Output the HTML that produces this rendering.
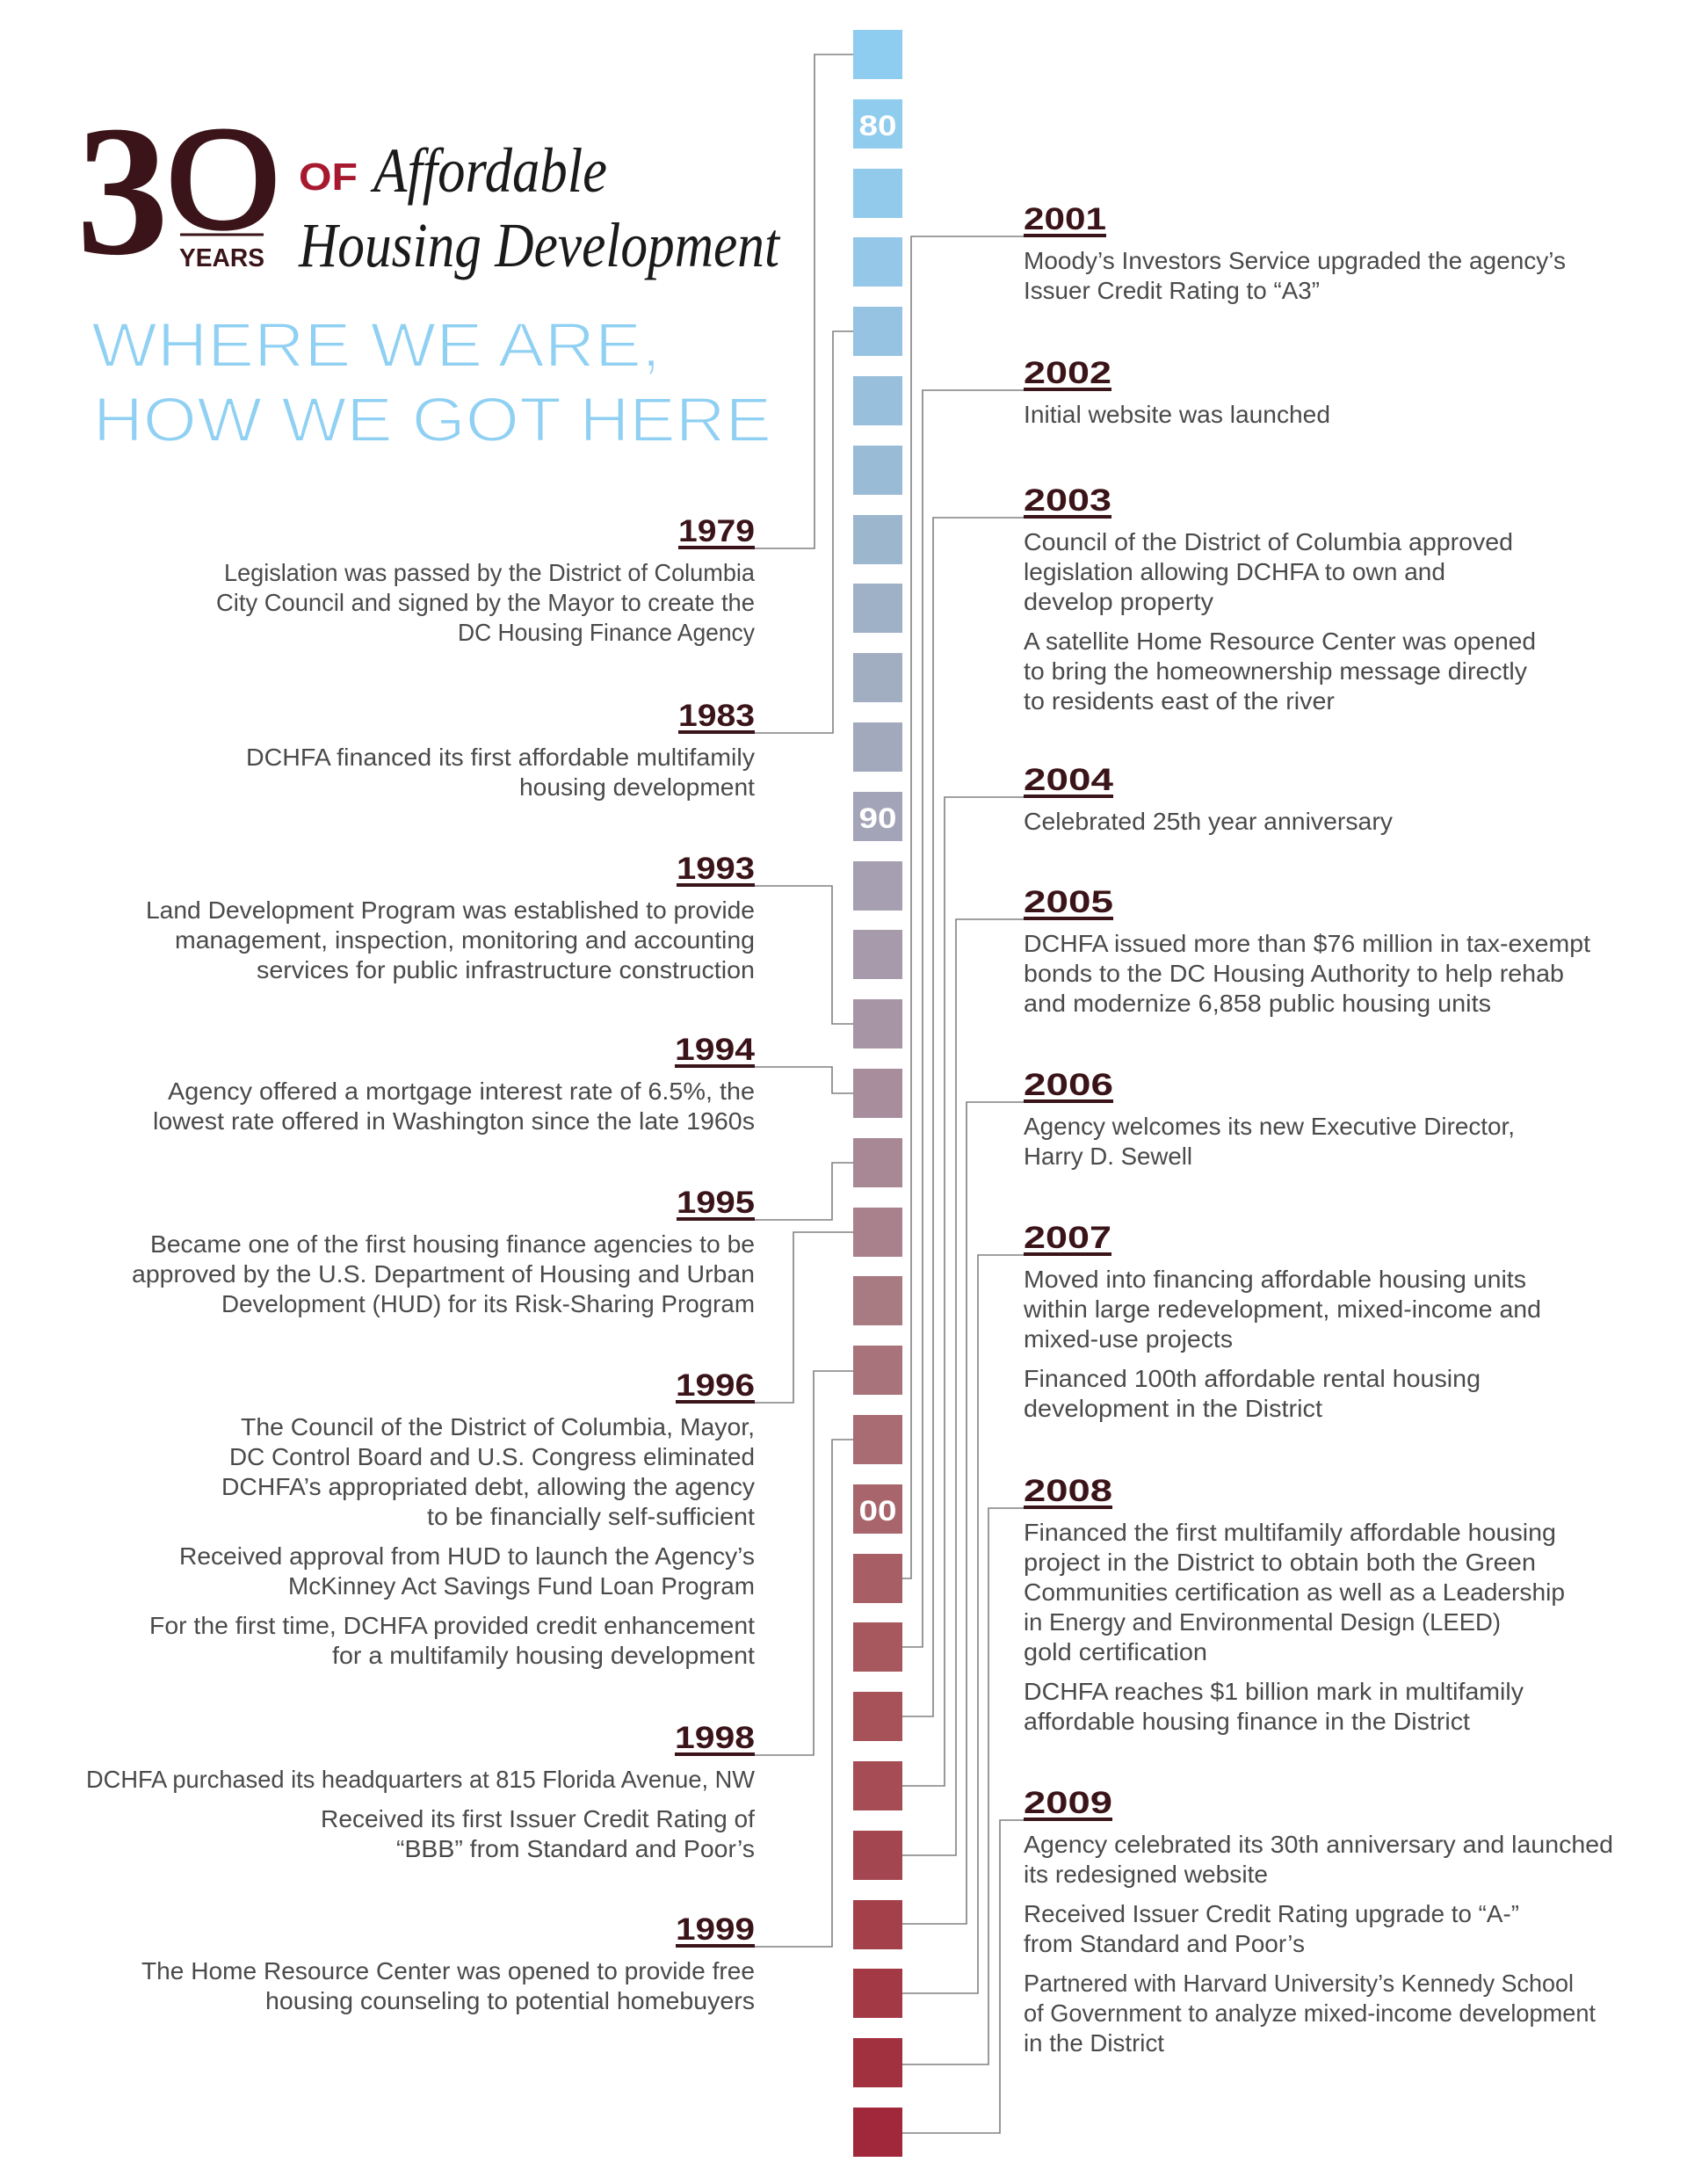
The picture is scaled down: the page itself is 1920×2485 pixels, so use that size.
<!DOCTYPE html>
<html>
<head>
<meta charset="utf-8">
<style>
html,body{margin:0;padding:0;background:#fff;}
svg{display:block;}
.b{font-family:"Liberation Sans",sans-serif;font-size:28px;fill:#4a4a4a;}
.h{font-family:"Liberation Sans",sans-serif;font-size:35px;font-weight:bold;fill:#3a1418;}
.l{text-anchor:end;}
.c{fill:none;stroke:#808080;stroke-width:1.6;}
.u{fill:#3a1418;}
.sq{font-family:"Liberation Sans",sans-serif;font-size:32px;font-weight:bold;fill:#fff;text-anchor:middle;}
.thin{stroke:#fff;stroke-width:2;paint-order:normal;}
</style>
</head>
<body>
<svg width="1920" height="2485" viewBox="0 0 1920 2485" xmlns="http://www.w3.org/2000/svg">
<rect x="0" y="0" width="1920" height="2485" fill="#fff"/>

<!-- Title -->
<text x="87" y="288" font-family="'Liberation Serif',serif" font-weight="bold" font-size="212" fill="#3a1418" textLength="105" lengthAdjust="spacingAndGlyphs">3</text>
<text x="185" y="261" font-family="'Liberation Sans',sans-serif" font-size="164" fill="#3a1418" textLength="138" lengthAdjust="spacingAndGlyphs">0</text>
<rect x="205" y="265.5" width="95" height="3" fill="#3a1418"/>
<text x="204" y="303" font-family="'Liberation Sans',sans-serif" font-weight="bold" font-size="29" fill="#3a1418" textLength="97" lengthAdjust="spacingAndGlyphs">YEARS</text>
<text x="340" y="216" font-family="'Liberation Sans',sans-serif" font-weight="bold" font-size="44" fill="#a6192e" textLength="67" lengthAdjust="spacingAndGlyphs">OF</text>
<text x="425" y="218" font-family="'Liberation Serif',serif" font-style="italic" font-size="72" fill="#1a1a1a" textLength="266" lengthAdjust="spacingAndGlyphs">Affordable</text>
<text x="340" y="303" font-family="'Liberation Serif',serif" font-style="italic" font-size="72" fill="#1a1a1a" textLength="547" lengthAdjust="spacingAndGlyphs">Housing Development</text>
<text class="thin" x="104" y="417" font-family="'Liberation Sans',sans-serif" font-size="71" fill="#8fd0f3" textLength="648" lengthAdjust="spacingAndGlyphs">WHERE WE ARE,</text>
<text class="thin" x="106" y="502" font-family="'Liberation Sans',sans-serif" font-size="71" fill="#8fd0f3" textLength="772" lengthAdjust="spacingAndGlyphs">HOW WE GOT HERE</text>

<!-- Squares -->
<g>
<rect x="971" y="34" width="56" height="56" fill="#8fcdf0"/>
<rect x="971" y="113" width="56" height="56" fill="#90ccee"/>
<rect x="971" y="192" width="56" height="56" fill="#92caec"/>
<rect x="971" y="270" width="56" height="56" fill="#94c7e8"/>
<rect x="971" y="349" width="56" height="56" fill="#96c3e2"/>
<rect x="971" y="428" width="56" height="56" fill="#98bfdc"/>
<rect x="971" y="507" width="56" height="56" fill="#9abbd5"/>
<rect x="971" y="586" width="56" height="56" fill="#9cb6ce"/>
<rect x="971" y="664" width="56" height="56" fill="#9fb1c7"/>
<rect x="971" y="743" width="56" height="56" fill="#a1adc1"/>
<rect x="971" y="822" width="56" height="56" fill="#a2a9bc"/>
<rect x="971" y="901" width="56" height="56" fill="#a3a4b7"/>
<rect x="971" y="980" width="56" height="56" fill="#a59fb1"/>
<rect x="971" y="1058" width="56" height="56" fill="#a69aab"/>
<rect x="971" y="1137" width="56" height="56" fill="#a794a4"/>
<rect x="971" y="1216" width="56" height="56" fill="#a88e9c"/>
<rect x="971" y="1295" width="56" height="56" fill="#a88895"/>
<rect x="971" y="1374" width="56" height="56" fill="#a8818c"/>
<rect x="971" y="1452" width="56" height="56" fill="#a87a82"/>
<rect x="971" y="1531" width="56" height="56" fill="#a8737a"/>
<rect x="971" y="1610" width="56" height="56" fill="#a86c72"/>
<rect x="971" y="1689" width="56" height="56" fill="#a8656b"/>
<rect x="971" y="1768" width="56" height="56" fill="#a75e64"/>
<rect x="971" y="1846" width="56" height="56" fill="#a7585e"/>
<rect x="971" y="1925" width="56" height="56" fill="#a65258"/>
<rect x="971" y="2004" width="56" height="56" fill="#a54c54"/>
<rect x="971" y="2083" width="56" height="56" fill="#a4464f"/>
<rect x="971" y="2162" width="56" height="56" fill="#a3404a"/>
<rect x="971" y="2240" width="56" height="56" fill="#a33945"/>
<rect x="971" y="2319" width="56" height="56" fill="#a2313f"/>
<rect x="971" y="2398" width="56" height="56" fill="#a1283a"/>
</g>
<text class="sq" x="999" y="154" textLength="43" lengthAdjust="spacingAndGlyphs">80</text>
<text class="sq" x="999" y="942" textLength="43" lengthAdjust="spacingAndGlyphs">90</text>
<text class="sq" x="999" y="1730" textLength="43" lengthAdjust="spacingAndGlyphs">00</text>

<!-- Connectors left -->
<polyline class="c" points="859,624 927,624 927,62 971,62"/>
<polyline class="c" points="859,834 948,834 948,377 971,377"/>
<polyline class="c" points="859,1008 947,1008 947,1165 971,1165"/>
<polyline class="c" points="859,1214 947,1214 947,1244 971,1244"/>
<polyline class="c" points="859,1388 947,1388 947,1323 971,1323"/>
<polyline class="c" points="859,1596 903,1596 903,1402 971,1402"/>
<polyline class="c" points="859,1997 926,1997 926,1560 971,1560"/>
<polyline class="c" points="859,2215 947,2215 947,1638 971,1638"/>
<!-- Connectors right -->
<polyline class="c" points="1027,1796 1037,1796 1037,269 1165,269"/>
<polyline class="c" points="1027,1874 1050,1874 1050,444 1165,444"/>
<polyline class="c" points="1027,1953 1062,1953 1062,589 1165,589"/>
<polyline class="c" points="1027,2032 1075,2032 1075,907 1165,907"/>
<polyline class="c" points="1027,2111 1088,2111 1088,1046 1165,1046"/>
<polyline class="c" points="1027,2189 1100,2189 1100,1254 1165,1254"/>
<polyline class="c" points="1027,2268 1113,2268 1113,1428 1165,1428"/>
<polyline class="c" points="1027,2349 1125,2349 1125,1716 1165,1716"/>
<polyline class="c" points="1027,2427 1138,2427 1138,2071 1165,2071"/>

<!-- LEFT COLUMN -->
<text class="h l" x="859" y="616" textLength="87" lengthAdjust="spacingAndGlyphs">1979</text>
<rect class="u" x="772" y="621" width="87" height="4"/>
<text class="b l" x="859" y="661" textLength="604" lengthAdjust="spacingAndGlyphs">Legislation was passed by the District of Columbia</text>
<text class="b l" x="859" y="695" textLength="613" lengthAdjust="spacingAndGlyphs">City Council and signed by the Mayor to create the</text>
<text class="b l" x="859" y="729" textLength="338" lengthAdjust="spacingAndGlyphs">DC Housing Finance Agency</text>

<text class="h l" x="859" y="826" textLength="87" lengthAdjust="spacingAndGlyphs">1983</text>
<rect class="u" x="772" y="831" width="87" height="4"/>
<text class="b l" x="859" y="871" textLength="579" lengthAdjust="spacingAndGlyphs">DCHFA financed its first affordable multifamily</text>
<text class="b l" x="859" y="905" textLength="268" lengthAdjust="spacingAndGlyphs">housing development</text>

<text class="h l" x="859" y="1000" textLength="89" lengthAdjust="spacingAndGlyphs">1993</text>
<rect class="u" x="770" y="1005" width="89" height="4"/>
<text class="b l" x="859" y="1045" textLength="693" lengthAdjust="spacingAndGlyphs">Land Development Program was established to provide</text>
<text class="b l" x="859" y="1079" textLength="660" lengthAdjust="spacingAndGlyphs">management, inspection, monitoring and accounting</text>
<text class="b l" x="859" y="1113" textLength="567" lengthAdjust="spacingAndGlyphs">services for public infrastructure construction</text>

<text class="h l" x="859" y="1206" textLength="91" lengthAdjust="spacingAndGlyphs">1994</text>
<rect class="u" x="768" y="1211" width="91" height="4"/>
<text class="b l" x="859" y="1251" textLength="668" lengthAdjust="spacingAndGlyphs">Agency offered a mortgage interest rate of 6.5%, the</text>
<text class="b l" x="859" y="1285" textLength="685" lengthAdjust="spacingAndGlyphs">lowest rate offered in Washington since the late 1960s</text>

<text class="h l" x="859" y="1380" textLength="89" lengthAdjust="spacingAndGlyphs">1995</text>
<rect class="u" x="770" y="1385" width="89" height="4"/>
<text class="b l" x="859" y="1425" textLength="688" lengthAdjust="spacingAndGlyphs">Became one of the first housing finance agencies to be</text>
<text class="b l" x="859" y="1459" textLength="709" lengthAdjust="spacingAndGlyphs">approved by the U.S. Department of Housing and Urban</text>
<text class="b l" x="859" y="1493" textLength="607" lengthAdjust="spacingAndGlyphs">Development (HUD) for its Risk-Sharing Program</text>

<text class="h l" x="859" y="1588" textLength="90" lengthAdjust="spacingAndGlyphs">1996</text>
<rect class="u" x="769" y="1593" width="90" height="4"/>
<text class="b l" x="859" y="1633" textLength="585" lengthAdjust="spacingAndGlyphs">The Council of the District of Columbia, Mayor,</text>
<text class="b l" x="859" y="1667" textLength="598" lengthAdjust="spacingAndGlyphs">DC Control Board and U.S. Congress eliminated</text>
<text class="b l" x="859" y="1701" textLength="607" lengthAdjust="spacingAndGlyphs">DCHFA’s appropriated debt, allowing the agency</text>
<text class="b l" x="859" y="1735" textLength="373" lengthAdjust="spacingAndGlyphs">to be financially self-sufficient</text>
<text class="b l" x="859" y="1780" textLength="655" lengthAdjust="spacingAndGlyphs">Received approval from HUD to launch the Agency’s</text>
<text class="b l" x="859" y="1814" textLength="531" lengthAdjust="spacingAndGlyphs">McKinney Act Savings Fund Loan Program</text>
<text class="b l" x="859" y="1859" textLength="689" lengthAdjust="spacingAndGlyphs">For the first time, DCHFA provided credit enhancement</text>
<text class="b l" x="859" y="1893" textLength="481" lengthAdjust="spacingAndGlyphs">for a multifamily housing development</text>

<text class="h l" x="859" y="1989" textLength="91" lengthAdjust="spacingAndGlyphs">1998</text>
<rect class="u" x="768" y="1994" width="91" height="4"/>
<text class="b l" x="859" y="2034" textLength="761" lengthAdjust="spacingAndGlyphs">DCHFA purchased its headquarters at 815 Florida Avenue, NW</text>
<text class="b l" x="859" y="2079" textLength="494" lengthAdjust="spacingAndGlyphs">Received its first Issuer Credit Rating of</text>
<text class="b l" x="859" y="2113" textLength="408" lengthAdjust="spacingAndGlyphs">“BBB” from Standard and Poor’s</text>

<text class="h l" x="859" y="2207" textLength="90" lengthAdjust="spacingAndGlyphs">1999</text>
<rect class="u" x="769" y="2212" width="90" height="4"/>
<text class="b l" x="859" y="2252" textLength="698" lengthAdjust="spacingAndGlyphs">The Home Resource Center was opened to provide free</text>
<text class="b l" x="859" y="2286" textLength="557" lengthAdjust="spacingAndGlyphs">housing counseling to potential homebuyers</text>

<!-- RIGHT COLUMN -->
<text class="h" x="1165" y="261" textLength="94" lengthAdjust="spacingAndGlyphs">2001</text>
<rect class="u" x="1165" y="266" width="94" height="4"/>
<text class="b" x="1165" y="306" textLength="617" lengthAdjust="spacingAndGlyphs">Moody’s Investors Service upgraded the agency’s</text>
<text class="b" x="1165" y="340" textLength="337" lengthAdjust="spacingAndGlyphs">Issuer Credit Rating to “A3”</text>

<text class="h" x="1165" y="436" textLength="100" lengthAdjust="spacingAndGlyphs">2002</text>
<rect class="u" x="1165" y="441" width="100" height="4"/>
<text class="b" x="1165" y="481" textLength="349" lengthAdjust="spacingAndGlyphs">Initial website was launched</text>

<text class="h" x="1165" y="581" textLength="100" lengthAdjust="spacingAndGlyphs">2003</text>
<rect class="u" x="1165" y="586" width="100" height="4"/>
<text class="b" x="1165" y="626" textLength="557" lengthAdjust="spacingAndGlyphs">Council of the District of Columbia approved</text>
<text class="b" x="1165" y="660" textLength="480" lengthAdjust="spacingAndGlyphs">legislation allowing DCHFA to own and</text>
<text class="b" x="1165" y="694" textLength="216" lengthAdjust="spacingAndGlyphs">develop property</text>
<text class="b" x="1165" y="739" textLength="583" lengthAdjust="spacingAndGlyphs">A satellite Home Resource Center was opened</text>
<text class="b" x="1165" y="773" textLength="573" lengthAdjust="spacingAndGlyphs">to bring the homeownership message directly</text>
<text class="b" x="1165" y="807" textLength="354" lengthAdjust="spacingAndGlyphs">to residents east of the river</text>

<text class="h" x="1165" y="899" textLength="102" lengthAdjust="spacingAndGlyphs">2004</text>
<rect class="u" x="1165" y="904" width="102" height="4"/>
<text class="b" x="1165" y="944" textLength="420" lengthAdjust="spacingAndGlyphs">Celebrated 25th year anniversary</text>

<text class="h" x="1165" y="1038" textLength="102" lengthAdjust="spacingAndGlyphs">2005</text>
<rect class="u" x="1165" y="1043" width="102" height="4"/>
<text class="b" x="1165" y="1083" textLength="645" lengthAdjust="spacingAndGlyphs">DCHFA issued more than $76 million in tax-exempt</text>
<text class="b" x="1165" y="1117" textLength="615" lengthAdjust="spacingAndGlyphs">bonds to the DC Housing Authority to help rehab</text>
<text class="b" x="1165" y="1151" textLength="532" lengthAdjust="spacingAndGlyphs">and modernize 6,858 public housing units</text>

<text class="h" x="1165" y="1246" textLength="102" lengthAdjust="spacingAndGlyphs">2006</text>
<rect class="u" x="1165" y="1251" width="102" height="4"/>
<text class="b" x="1165" y="1291" textLength="559" lengthAdjust="spacingAndGlyphs">Agency welcomes its new Executive Director,</text>
<text class="b" x="1165" y="1325" textLength="192" lengthAdjust="spacingAndGlyphs">Harry D. Sewell</text>

<text class="h" x="1165" y="1420" textLength="100" lengthAdjust="spacingAndGlyphs">2007</text>
<rect class="u" x="1165" y="1425" width="100" height="4"/>
<text class="b" x="1165" y="1465" textLength="572" lengthAdjust="spacingAndGlyphs">Moved into financing affordable housing units</text>
<text class="b" x="1165" y="1499" textLength="589" lengthAdjust="spacingAndGlyphs">within large redevelopment, mixed-income and</text>
<text class="b" x="1165" y="1533" textLength="238" lengthAdjust="spacingAndGlyphs">mixed-use projects</text>
<text class="b" x="1165" y="1578" textLength="520" lengthAdjust="spacingAndGlyphs">Financed 100th affordable rental housing</text>
<text class="b" x="1165" y="1612" textLength="340" lengthAdjust="spacingAndGlyphs">development in the District</text>

<text class="h" x="1165" y="1708" textLength="101" lengthAdjust="spacingAndGlyphs">2008</text>
<rect class="u" x="1165" y="1713" width="101" height="4"/>
<text class="b" x="1165" y="1753" textLength="606" lengthAdjust="spacingAndGlyphs">Financed the first multifamily affordable housing</text>
<text class="b" x="1165" y="1787" textLength="583" lengthAdjust="spacingAndGlyphs">project in the District to obtain both the Green</text>
<text class="b" x="1165" y="1821" textLength="616" lengthAdjust="spacingAndGlyphs">Communities certification as well as a Leadership</text>
<text class="b" x="1165" y="1855" textLength="543" lengthAdjust="spacingAndGlyphs">in Energy and Environmental Design (LEED)</text>
<text class="b" x="1165" y="1889" textLength="209" lengthAdjust="spacingAndGlyphs">gold certification</text>
<text class="b" x="1165" y="1934" textLength="569" lengthAdjust="spacingAndGlyphs">DCHFA reaches $1 billion mark in multifamily</text>
<text class="b" x="1165" y="1968" textLength="508" lengthAdjust="spacingAndGlyphs">affordable housing finance in the District</text>

<text class="h" x="1165" y="2063" textLength="101" lengthAdjust="spacingAndGlyphs">2009</text>
<rect class="u" x="1165" y="2068" width="101" height="4"/>
<text class="b" x="1165" y="2108" textLength="671" lengthAdjust="spacingAndGlyphs">Agency celebrated its 30th anniversary and launched</text>
<text class="b" x="1165" y="2142" textLength="278" lengthAdjust="spacingAndGlyphs">its redesigned website</text>
<text class="b" x="1165" y="2187" textLength="564" lengthAdjust="spacingAndGlyphs">Received Issuer Credit Rating upgrade to “A-”</text>
<text class="b" x="1165" y="2221" textLength="320" lengthAdjust="spacingAndGlyphs">from Standard and Poor’s</text>
<text class="b" x="1165" y="2266" textLength="626" lengthAdjust="spacingAndGlyphs">Partnered with Harvard University’s Kennedy School</text>
<text class="b" x="1165" y="2300" textLength="651" lengthAdjust="spacingAndGlyphs">of Government to analyze mixed-income development</text>
<text class="b" x="1165" y="2334" textLength="160" lengthAdjust="spacingAndGlyphs">in the District</text>
</svg>
</body>
</html>
